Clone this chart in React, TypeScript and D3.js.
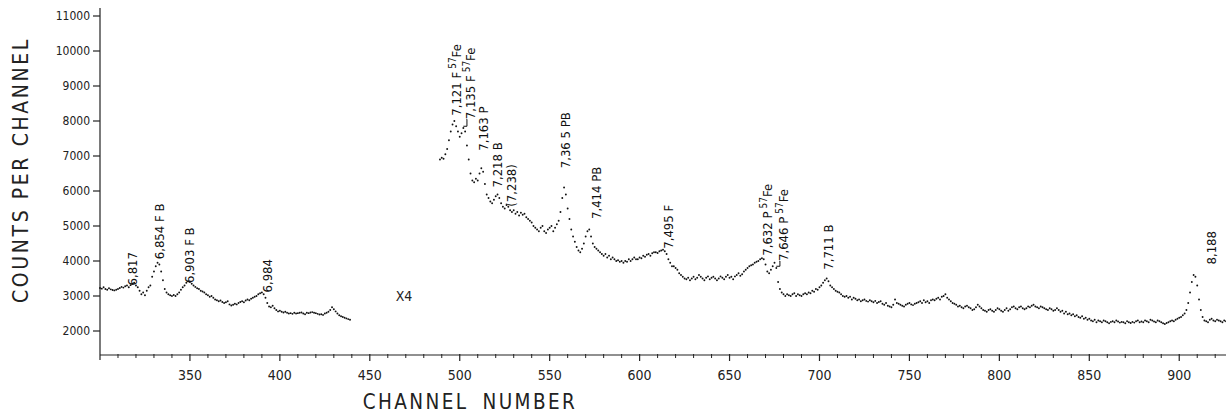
import React from "react";
import * as d3 from "d3";

// gamma spectrum, one count per channel
const lowStart = 300;
const lowCounts = [
  3230, 3210, 3250, 3200, 3180, 3220, 3190, 3170, 3160, 3180,
  3200, 3230, 3260, 3240, 3280, 3300, 3250, 3310, 3350, 3380,
  3300, 3250, 3150, 3050, 3100, 3020, 3150, 3250, 3300, 3550,
  3700, 3850, 3950, 3900, 3700, 3450, 3200, 3100, 3050, 3020,
  3000, 3030, 3000, 3050, 3100, 3180, 3250, 3300, 3380, 3420,
  3400, 3350, 3300, 3260, 3220, 3200, 3150, 3130, 3100, 3050,
  3020, 2980, 3000, 2950, 2900, 2880, 2850, 2870, 2830, 2800,
  2820, 2850, 2760, 2730, 2750, 2780, 2760, 2800, 2830, 2850,
  2820, 2870, 2900, 2880, 2920, 2950, 2980, 3000, 3050, 3080,
  3100, 3050, 2950, 2800, 2700, 2680, 2720, 2650, 2600, 2560,
  2580, 2550, 2530, 2550, 2520, 2500, 2510, 2490, 2520, 2500,
  2510, 2520, 2530, 2500, 2480, 2520, 2510, 2530, 2540, 2520,
  2510, 2490, 2470, 2480, 2460, 2500, 2520, 2550, 2600, 2680,
  2620, 2560, 2500, 2450, 2420, 2400, 2380, 2360, 2340, 2320,
];

const highStart = 489;
const highCounts = [
  6900, 6950, 6920, 7050, 7200, 7450, 7700, 7900, 8000, 7850,
  7700, 7550, 7650, 7800, 7700, 7300, 6900, 6500, 6300, 6250,
  6350, 6300, 6500, 6650, 6550, 6200, 5900, 5800, 5700, 5650,
  5750, 5850, 5900, 5800, 5650, 5550, 5500, 5600, 5550, 5450,
  5400, 5450, 5350, 5400, 5300, 5380, 5320, 5350, 5250, 5200,
  5150, 5100, 5000, 4950, 4900, 4850, 4950, 5000, 4850, 4800,
  4900, 4950, 5000, 4850, 4950, 5050, 5150, 5400, 5800, 6100,
  5900, 5500, 5200, 4900, 4700, 4550, 4400, 4300, 4250, 4350,
  4500, 4700, 4850, 4900, 4700, 4500, 4400, 4350, 4300, 4250,
  4200, 4150, 4200, 4100, 4150, 4050, 4100, 4050, 4000, 4020,
  3980, 4000, 3950, 4000, 3980, 4050, 4000, 4050, 4100, 4050,
  4050, 4100, 4080, 4150, 4120, 4180, 4200, 4150, 4220, 4250,
  4250, 4230, 4280, 4300, 4320, 4280, 4200, 4050, 3950, 3850,
  3850, 3800, 3750, 3650, 3600, 3550, 3500, 3480, 3520, 3450,
  3500, 3550, 3480, 3520, 3600, 3550, 3500, 3450, 3520, 3560,
  3480, 3520, 3550, 3500, 3450, 3500, 3560, 3520, 3480, 3550,
  3600, 3520, 3550, 3480, 3560, 3600, 3650, 3580, 3620, 3700,
  3750, 3800, 3850, 3880, 3900, 3950, 3980, 4000, 4050, 4080,
  4050, 3900, 3700, 3650, 3750, 3850, 3950, 3800, 3400, 3200,
  3100, 3050, 3000, 3050, 3020, 3000, 3050, 3080, 3000, 3050,
  3020, 3000, 3050, 3080, 3050, 3100, 3080, 3150, 3120, 3200,
  3180, 3250, 3300, 3380, 3450, 3500, 3420, 3300, 3250, 3200,
  3150, 3120, 3100, 3050, 3000, 2980, 3000, 2950, 2980, 2900,
  2950, 2920, 2880, 2900, 2850, 2880, 2900, 2860, 2840, 2880,
  2850, 2820, 2860, 2800, 2830, 2850, 2780, 2750, 2800, 2720,
  2700, 2680, 2750, 2900, 2800, 2780, 2750, 2720, 2700, 2750,
  2780, 2800, 2760, 2740, 2780, 2800, 2820, 2850, 2800, 2880,
  2820, 2850, 2800, 2880, 2900, 2880, 2920, 2950, 2900, 2980,
  3000, 3050, 2950, 2900, 2850, 2800, 2780, 2750, 2700, 2720,
  2680, 2650, 2700, 2720, 2680, 2650, 2600, 2620, 2680, 2750,
  2700, 2650, 2600, 2580, 2550, 2600, 2620, 2580, 2550, 2600,
  2650, 2620, 2580, 2550, 2600, 2650, 2580, 2620, 2680, 2700,
  2650, 2620, 2680, 2700, 2650, 2620, 2650, 2700, 2680, 2720,
  2750, 2700, 2680, 2650, 2700, 2680, 2650, 2620, 2600, 2650,
  2620, 2580, 2600, 2650, 2600, 2550, 2580, 2500, 2550, 2480,
  2500, 2450, 2480, 2420, 2450, 2400, 2380, 2420, 2350, 2380,
  2320, 2350, 2300, 2280, 2320, 2250, 2300, 2280, 2250, 2300,
  2280, 2250, 2220, 2260, 2280, 2250, 2300, 2270, 2240, 2260,
  2250, 2220, 2280, 2250, 2230, 2260, 2240, 2280, 2300, 2250,
  2270, 2250, 2300, 2280, 2250, 2320, 2300, 2270, 2250, 2300,
  2280, 2250, 2220, 2200, 2230, 2250, 2280, 2300, 2280, 2320,
  2350, 2380, 2400, 2450, 2500, 2600, 2800, 3100, 3400, 3600,
  3550, 3300, 2900, 2600, 2400, 2300, 2280, 2250, 2320, 2350,
  2300, 2280, 2320, 2300, 2280, 2250, 2300, 2280,
];

// peak labels: channel, count at the foot of the label, text, 57Fe suffix
const peakChannels = [318, 333, 350, 393, 498, 506, 513, 521, 529, 559, 576, 616, 671, 680, 705, 918];
const peakCounts = [3300, 4050, 3370, 3100, 8150, 8050, 7150, 6100, 5550, 6650, 5200, 4350, 4150, 4000, 3750, 3900];
const peakTexts = [
  "6,817", "6,854 F B", "6,903 F B", "6,984", "7,121 F", "7,135 F", "7,163 P", "7,218 B",
  "(7,238)", "7,36 5 PB", "7,414 PB", "7,495 F", "7,632 P", "7,646 P", "7,711 B", "8,188",
];
const peakIron = [false, false, false, false, true, true, false, false, false, false, false, false, true, true, false, false];

const yTicks = [2000, 3000, 4000, 5000, 6000, 7000, 8000, 9000, 10000, 11000];
const xTicks = [350, 400, 450, 500, 550, 600, 650, 700, 750, 800, 850, 900];

export default function App() {
  const width = 1226;
  const height = 415;
  const x = d3.scaleLinear().domain([300, 926]).range([100, 1226]);
  const y = d3.scaleLinear().domain([2000, 11000]).range([331, 16]);
  const axisY = 355;
  const font = "'DejaVu Sans Condensed', 'Liberation Sans Narrow', sans-serif";

  const points = [
    ...lowCounts.map((v, i) => [lowStart + i, v]),
    ...highCounts.map((v, i) => [highStart + i, v]),
  ];
  const minor = d3.range(310, 926, 10).filter((c) => c % 50 !== 0);

  return (
    <svg
      width={width}
      height={height}
      style={{ position: "absolute", left: 0, top: 0, background: "#fff" }}
      fontFamily={font}
    >
      {/* y axis */}
      <line x1={100} x2={100} y1={8} y2={axisY} stroke="#222" strokeWidth={1.2} />
      {yTicks.map((t) => (
        <g key={t}>
          <line x1={93} x2={100} y1={y(t)} y2={y(t)} stroke="#222" strokeWidth={1.2} />
          <text x={90} y={y(t)} dy="0.35em" textAnchor="end" fontSize={12} fill="#222">
            {t}
          </text>
        </g>
      ))}
      <text
        transform={`translate(28,170) rotate(-90)`}
        textAnchor="middle"
        fontSize={21}
        fontWeight={300}
        letterSpacing={2.6}
        fill="#222"
      >
        COUNTS PER CHANNEL
      </text>

      {/* x axis */}
      <line x1={100} x2={width} y1={axisY} y2={axisY} stroke="#222" strokeWidth={1.2} />
      <line x1={100} x2={100} y1={axisY} y2={axisY + 5} stroke="#222" strokeWidth={1.2} />
      {minor.map((c) => (
        <line key={c} x1={x(c)} x2={x(c)} y1={axisY - 1} y2={axisY + 3} stroke="#222" strokeWidth={1} />
      ))}
      {xTicks.map((t) => (
        <g key={t}>
          <line x1={x(t)} x2={x(t)} y1={axisY - 1} y2={axisY + 6} stroke="#222" strokeWidth={1.2} />
          <text x={x(t)} y={axisY + 25} textAnchor="middle" fontSize={14} fill="#222">
            {t}
          </text>
        </g>
      ))}
      <text x={470} y={409} textAnchor="middle" fontSize={20.5} fontWeight={300} letterSpacing={2.4} fill="#222">
        <tspan>CHANNEL</tspan>
        <tspan dx={14}>NUMBER</tspan>
      </text>
      <text x={x(469)} y={y(3000)} dy="0.35em" textAnchor="middle" fontSize={14} fill="#222">
        X4
      </text>

      {/* spectrum */}
      {points.map(([c, v]) => (
        <circle key={c} cx={x(c)} cy={y(v)} r={0.95} fill="#111" />
      ))}

      {/* peak labels */}
      {peakChannels.map((c, i) => (
        <text
          key={c}
          transform={`translate(${x(c)},${y(peakCounts[i])}) rotate(-90)`}
          dy="0.35em"
          fontSize={13}
          fill="#111"
        >
          {peakTexts[i]}
          {peakIron[i] && (
            <>
              <tspan dx={3} dy={-5} fontSize={10}>57</tspan>
              <tspan dy={5}>Fe</tspan>
            </>
          )}
        </text>
      ))}
      {/* brackets joining doublet labels to their peaks */}
      <path
        d={`M${x(502)},${y(7850)} H${x(504)} V${y(8050)} H${x(506) - 4}`}
        fill="none"
        stroke="#111"
        strokeWidth={1}
      />
      <path
        d={`M${x(676)},${y(3850)} H${x(678)} V${y(4000)} H${x(680) - 4}`}
        fill="none"
        stroke="#111"
        strokeWidth={1}
      />
    </svg>
  );
}
